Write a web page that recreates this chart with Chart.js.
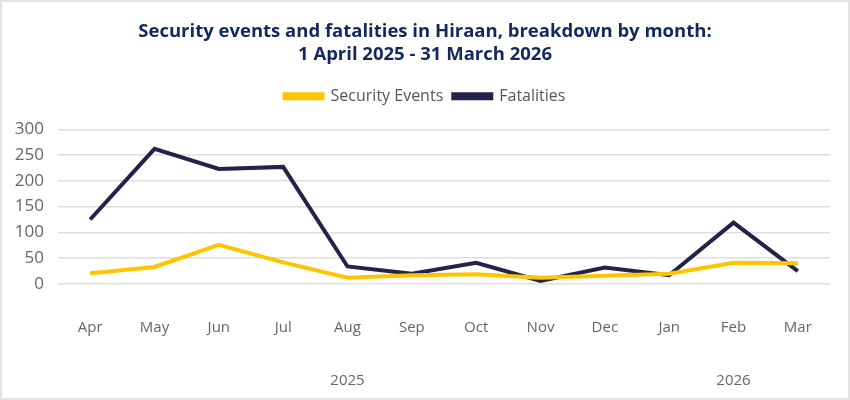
<!DOCTYPE html>
<html>
<head>
<meta charset="utf-8">
<script src="https://cdn.jsdelivr.net/npm/chart.js@4"></script>
<style>
  html, body { margin: 0; padding: 0; background: #fff; }
  #wrap { position: relative; width: 846px; height: 396px; border: 2px solid #e3e3e3; }
</style>
</head>
<body>
<div id="wrap"><canvas id="chart"></canvas></div>
<script>
// months of the reporting period
var months = ['Apr', 'May', 'Jun', 'Jul', 'Aug', 'Sep', 'Oct', 'Nov', 'Dec', 'Jan', 'Feb', 'Mar'];
// year row shown under the months
var years = ['', '', '', '', '2025', '', '', '', '', '', '2026', ''];

var securityEvents = [21, 33, 76, 42, 12, 17, 19, 12, 16, 20, 41, 40];
var fatalities = [125, 262, 223, 227, 34, 20, 41, 6, 32, 17, 119, 25];

var yTicks = [0, 50, 100, 150, 200, 250, 300];

var FONT = "'Open Sans', sans-serif";

// extra room under the legend, and title/legend centred on the whole canvas
var headerFix = {
	id: 'headerFix',
	beforeInit: function(chart) {
		var fit = chart.legend.fit;
		chart.legend.fit = function() {
			fit.call(this);
			this.height += 15;
		};
	},
	afterLayout: function(chart) {
		chart.titleBlock.left = 0;
		chart.titleBlock.right = chart.width;
		chart.legend.left = 0;
		chart.legend.right = chart.width;
	}
};

new Chart(document.getElementById('chart'), {
	type: 'line',
	data: {
		labels: months,
		datasets: [{
			label: 'Security Events',
			data: securityEvents,
			borderColor: '#FFC400',
			backgroundColor: '#FFC400',
			borderWidth: 4,
			pointRadius: 0,
			tension: 0
		}, {
			label: 'Fatalities',
			data: fatalities,
			borderColor: '#22234A',
			backgroundColor: '#22234A',
			borderWidth: 4,
			pointRadius: 0,
			tension: 0
		}]
	},
	options: {
		responsive: true,
		maintainAspectRatio: false,
		animation: false,
		layout: { padding: { top: 18, left: 10, right: 18, bottom: 8 } },
		plugins: {
			title: {
				display: true,
				text: ['Security events and fatalities in Hiraan, breakdown by month:', '1 April 2025 - 31 March 2026'],
				color: '#12295C',
				font: { family: FONT, size: 18.5, weight: 'bold', lineHeight: 1.25 },
				padding: { top: 0, bottom: 12 }
			},
			legend: {
				display: true,
				labels: {
					boxWidth: 38,
					boxHeight: 4,
					color: '#555',
					font: { family: FONT, size: 16 },
					padding: 10
				}
			},
			tooltip: { enabled: false }
		},
		scales: {
			x: {
				offset: true,
				grid: { display: false },
				border: { display: false },
				ticks: { color: '#666', font: { family: FONT, size: 15 }, padding: 27 }
			},
			x2: {
				type: 'category',
				labels: years,
				position: 'bottom',
				offset: true,
				grid: { display: false },
				border: { display: false },
				ticks: { color: '#666', font: { family: FONT, size: 15 }, padding: 0, autoSkip: false, maxRotation: 0 }
			},
			y: {
				min: yTicks[0],
				max: yTicks[yTicks.length - 1],
				afterBuildTicks: function(axis) {
					axis.ticks = yTicks.map(function(v) { return { value: v }; });
				},
				afterFit: function(axis) {
					axis.width = 46;
				},
				grid: { color: '#dedede', lineWidth: 1.5, drawTicks: false },
				border: { display: false },
				ticks: { color: '#666', font: { family: FONT, size: 17 }, padding: 14, autoSkip: false }
			}
		}
	},
	plugins: [headerFix]
});
</script>
</body>
</html>
